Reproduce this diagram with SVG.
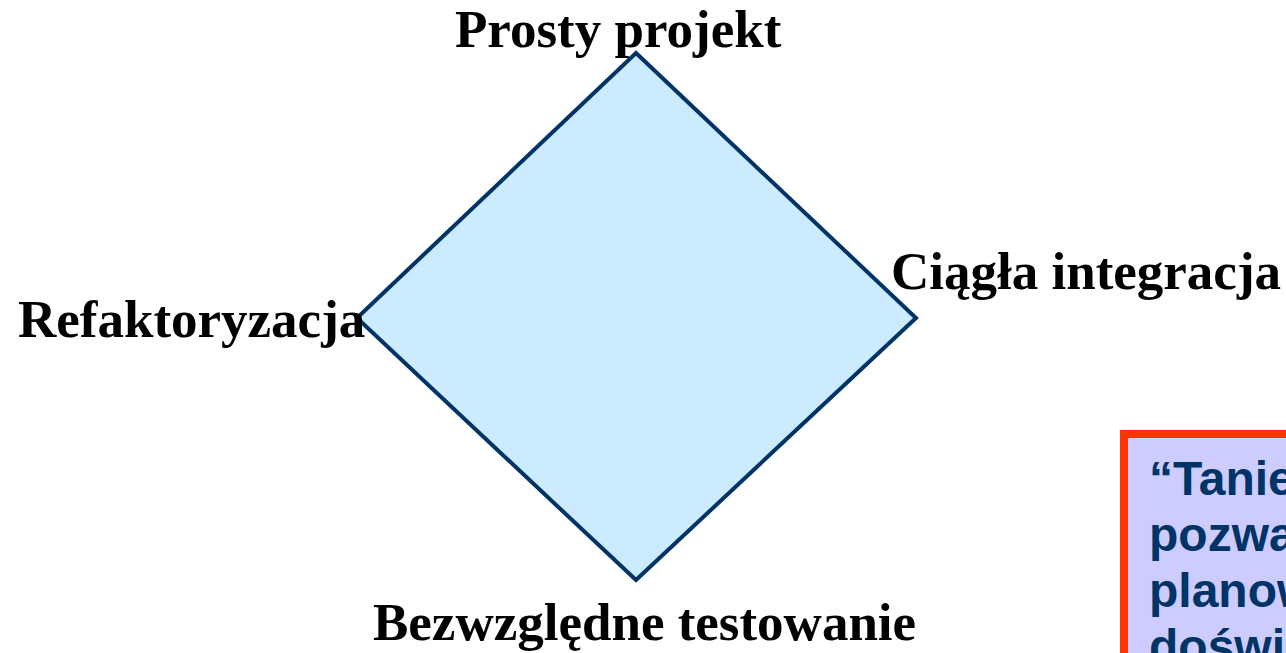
<svg xmlns="http://www.w3.org/2000/svg" width="1286" height="653" viewBox="0 0 1286 653">
  <style>
    .label { font-family: "Liberation Serif", "Times New Roman", serif; font-weight: bold; font-size: 53px; fill: #000; }
    .quote { font-family: "Liberation Sans", Arial, sans-serif; font-weight: bold; font-size: 48px; fill: #003366; }
  </style>
  <rect x="0" y="0" width="1286" height="653" fill="#ffffff"/>

  <!-- central diamond -->
  <g id="diamond">
    <polygon points="636,53 916,318 636,580 357,318" fill="#CCEBFF" stroke="#003366" stroke-width="4" stroke-linejoin="miter"/>
  </g>

  <!-- corner labels -->
  <g id="label-top">
    <text class="label" x="455" y="47">Prosty projekt</text>
  </g>
  <g id="label-right">
    <text class="label" x="891" y="289">Ciągła integracja</text>
  </g>
  <g id="label-left">
    <text class="label" x="18" y="337">Refaktoryzacja</text>
  </g>
  <g id="label-bottom">
    <text class="label" x="373" y="640">Bezwzględne testowanie</text>
  </g>

  <!-- quote box -->
  <g id="quote-box">
    <rect x="1124" y="434" width="300" height="300" fill="#CCCCFF" stroke="#FF3300" stroke-width="8"/>
    <text class="quote" x="1149" y="495">“Tanie zmiany</text>
    <text class="quote" x="1149" y="551">pozwalają na</text>
    <text class="quote" x="1149" y="607">planowanie na</text>
    <text class="quote" x="1149" y="663">doświadczeniu</text>
  </g>

  <g id="connectors"></g>
</svg>
